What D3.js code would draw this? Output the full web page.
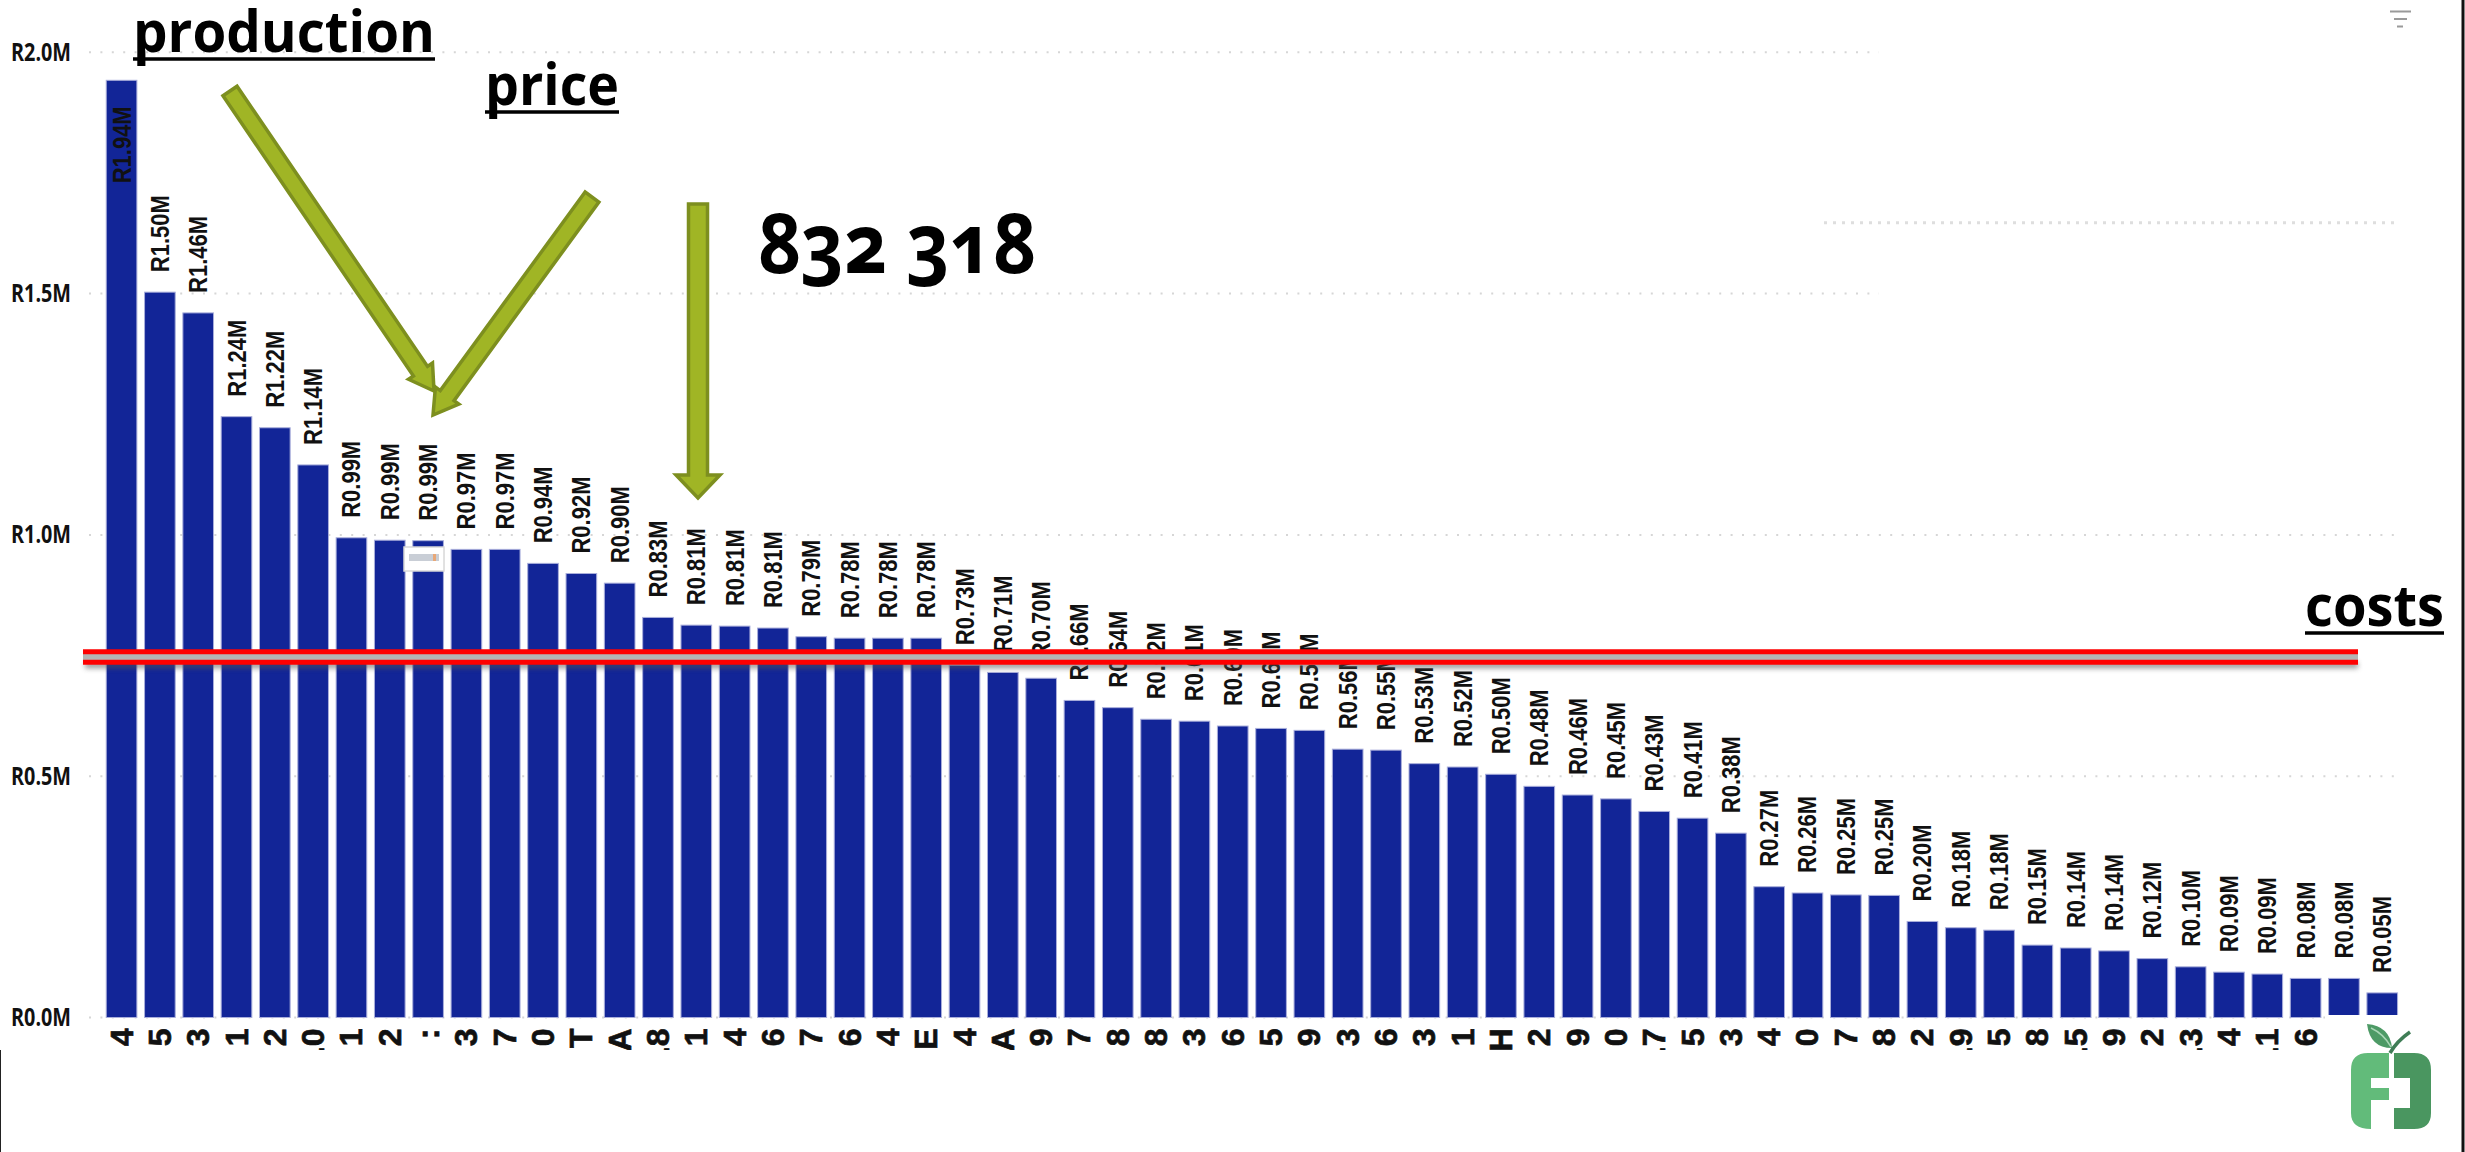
<!DOCTYPE html>
<html>
<head>
<meta charset="utf-8">
<script src="https://cdn.jsdelivr.net/npm/d3@7"></script>
<style>
	html, body { margin: 0; padding: 0; background: #fff; overflow: hidden; }
	svg { display: block; }
</style>
</head>
<body>
<div id="chart"></div>
<script>

// values in millions of rand
var barValues = [1.942, 1.503, 1.460, 1.245, 1.222, 1.145, 0.994, 0.989, 0.988, 0.970, 0.970, 0.941, 0.920, 0.900,
	0.829, 0.813, 0.811, 0.807, 0.789, 0.786, 0.786, 0.786, 0.730, 0.715, 0.703, 0.657, 0.642, 0.618, 0.614, 0.604,
	0.599, 0.595, 0.556, 0.554, 0.526, 0.519, 0.504, 0.479, 0.461, 0.453, 0.427, 0.413, 0.382, 0.271, 0.258, 0.254,
	0.253, 0.199, 0.186, 0.181, 0.150, 0.144, 0.138, 0.122, 0.105, 0.094, 0.090, 0.081, 0.081, 0.051];

// what the data labels say (not always the rounding of the bar top)
var barLabels = ["R1.94M", "R1.50M", "R1.46M", "R1.24M", "R1.22M", "R1.14M", "R0.99M", "R0.99M", "R0.99M", "R0.97M",
	"R0.97M", "R0.94M", "R0.92M", "R0.90M", "R0.83M", "R0.81M", "R0.81M", "R0.81M", "R0.79M", "R0.78M", "R0.78M",
	"R0.78M", "R0.73M", "R0.71M", "R0.70M", "R0.66M", "R0.64M", "R0.62M", "R0.61M", "R0.60M", "R0.60M", "R0.59M",
	"R0.56M", "R0.55M", "R0.53M", "R0.52M", "R0.50M", "R0.48M", "R0.46M", "R0.45M", "R0.43M", "R0.41M", "R0.38M",
	"R0.27M", "R0.26M", "R0.25M", "R0.25M", "R0.20M", "R0.18M", "R0.18M", "R0.15M", "R0.14M", "R0.14M", "R0.12M",
	"R0.10M", "R0.09M", "R0.09M", "R0.08M", "R0.08M", "R0.05M"];

// the category names are cropped in the picture, only their last characters show
var categoryEnds = ["4", "5", "3", "1", "2", ".0", "1", "2", ":", "3", "7", "0", "T", "A", ".8", "1", "4", "6", "7",
	"6", "4", "E", "4", "A", "9", "7", "8", "8", "3", "6", "5", "9", "3", "6", "3", "1", "H", "2", "9", "0", ".7",
	"5", "3", "4", "0", "7", "8", "2", ".9", "5", "8", ".5", "9", "2", ".3", "4", ".1", "6", "", ""];

var yTicks = [0, 0.5, 1, 1.5, 2];
var yTickLabels = ["R0.0M", "R0.5M", "R1.0M", "R1.5M", "R2.0M"];
var costLines = [0.758, 0.736];

var width = 2465, height = 1152;

var svg = d3.select("#chart").append("svg")
	.attr("width", width)
	.attr("height", height);

var defs = svg.append("defs");

defs.append("filter")
	.attr("id", "line-shadow")
	.attr("x", "-1%").attr("width", "102%")
	.attr("y", "-200%").attr("height", "500%")
	.append("feGaussianBlur")
	.attr("stdDeviation", 2.5);

defs.append("clipPath")
	.attr("id", "tick-clip")
	.append("rect")
	.attr("x", 0).attr("y", 1018)
	.attr("width", width).attr("height", 32);

var x = d3.scaleBand()
	.domain(d3.range(barValues.length))
	.range([102.4, 2401.4])
	.paddingInner(0.2)
	.paddingOuter(0.1);

var y = d3.scaleLinear()
	.domain([0, 2])
	.range([1017.5, 52.3]);

// gridlines, dotted and cut short like the screenshot
var grid = svg.append("g").attr("class", "grid");

grid.selectAll("line")
	.data(yTicks)
	.enter()
	.append("line")
	.attr("x1", 89)
	.attr("x2", function(d){ return d >= 1.5 ? 1879 : 2402; })
	.attr("y1", function(d){ return y(d); })
	.attr("y2", function(d){ return y(d); })
	.attr("stroke", "#d6d6d6")
	.attr("stroke-width", 2)
	.attr("stroke-dasharray", "2 9.4");

// stray piece of grid from the pasted image on the right
grid.append("line")
	.attr("x1", 1824).attr("x2", 2400)
	.attr("y1", 222.7).attr("y2", 222.7)
	.attr("stroke", "#dedede")
	.attr("stroke-width", 3)
	.attr("stroke-dasharray", "3 6");

// y axis labels
var yAxis = d3.axisLeft(y)
	.tickValues(yTicks)
	.tickSize(0)
	.tickFormat(function(d, i){ return yTickLabels[i]; });

var yAxisG = svg.append("g")
	.attr("transform", "translate(71,0)")
	.call(yAxis);

yAxisG.select(".domain").remove();

yAxisG.selectAll("text")
	.attr("x", 0)
	.attr("textLength", 60)
	.attr("lengthAdjust", "spacingAndGlyphs")
	.attr("font-family", "Open Sans")
	.attr("font-weight", 700)
	.attr("font-size", 25)
	.attr("fill", "#111");

// bars
svg.append("g").attr("class", "bars")
	.selectAll("rect")
	.data(barValues)
	.enter()
	.append("rect")
	.attr("x", function(d, i){ return x(i); })
	.attr("width", x.bandwidth())
	.attr("y", function(d){ return y(d); })
	.attr("height", function(d){ return y(0) - y(d); })
	.attr("fill", "#122597")
	.attr("stroke", "#a9aedb")
	.attr("stroke-width", 1);

// data labels, the tallest one sits inside its bar
svg.append("g").attr("class", "bar-labels")
	.selectAll("text")
	.data(barValues)
	.enter()
	.append("text")
	.text(function(d, i){ return barLabels[i]; })
	.attr("transform", function(d, i){
		var lx = x(i) + x.bandwidth() / 2 + 9;
		var ly = i == 0 ? y(d) + 103 : y(d) - 20;
		return "translate(" + lx + "," + ly + ") rotate(-90) scale(1,1.2)";
	})
	.attr("font-family", "Liberation Sans")
	.attr("font-weight", 700)
	.attr("font-size", 22)
	.attr("fill", "#111");

// x axis, cropped to a single row of glyphs
var xAxis = d3.axisBottom(x)
	.tickSize(0)
	.tickFormat(function(d){ return categoryEnds[d]; });

var xAxisG = svg.append("g")
	.attr("clip-path", "url(#tick-clip)")
	.append("g")
	.attr("transform", "translate(0," + y(0) + ")")
	.call(xAxis);

xAxisG.select(".domain").remove();

xAxisG.selectAll("text")
	.attr("transform", "translate(11,11) rotate(-90)")
	.attr("x", 0)
	.attr("y", 0)
	.attr("dy", 0)
	.attr("text-anchor", "end")
	.attr("font-family", "Liberation Sans")
	.attr("font-weight", 700)
	.attr("font-size", 32)
	.attr("fill", "#111")
	.attr("stroke", "#111")
	.attr("stroke-width", 0.7);

// small popup that hides the ninth bar
var popup = svg.append("g").attr("class", "popup");
popup.append("rect")
	.attr("x", 404).attr("y", 547).attr("width", 40).attr("height", 24)
	.attr("fill", "#fff").attr("stroke", "#d8d8d8").attr("stroke-width", 1.5);
popup.append("rect")
	.attr("x", 409).attr("y", 554).attr("width", 30).attr("height", 7)
	.attr("fill", "#c9ced6");
popup.append("rect")
	.attr("x", 433).attr("y", 554).attr("width", 3).attr("height", 7)
	.attr("fill", "#e8a878");

// cost lines with their grey band and shadow
var costTop = y(costLines[0]), costBottom = y(costLines[1]);
var costs = svg.append("g").attr("class", "cost-lines");

costs.append("rect")
	.attr("x", 85).attr("width", 2273)
	.attr("y", costBottom).attr("height", 6)
	.attr("fill", "#555")
	.attr("opacity", 0.6)
	.attr("filter", "url(#line-shadow)");

costs.append("rect")
	.attr("x", 83).attr("width", 2275)
	.attr("y", costTop).attr("height", costBottom - costTop)
	.attr("fill", "#b4b4b4");

costs.selectAll("line")
	.data(costLines)
	.enter()
	.append("line")
	.attr("x1", 83).attr("x2", 2358)
	.attr("y1", function(d){ return y(d); })
	.attr("y2", function(d){ return y(d); })
	.attr("stroke", "#fe0000")
	.attr("stroke-width", 5);

// green arrows
function arrowPath(x0, y0, x1, y1, shaft, head, headLen){
	var a = Math.atan2(y1 - y0, x1 - x0);
	var ux = Math.cos(a), uy = Math.sin(a);
	var nx = -uy, ny = ux;
	var bx = x1 - ux * headLen, by = y1 - uy * headLen;
	var p = d3.path();
	p.moveTo(x0 + nx * shaft / 2, y0 + ny * shaft / 2);
	p.lineTo(bx + nx * shaft / 2, by + ny * shaft / 2);
	p.lineTo(bx + nx * head / 2, by + ny * head / 2);
	p.lineTo(x1, y1);
	p.lineTo(bx - nx * head / 2, by - ny * head / 2);
	p.lineTo(bx - nx * shaft / 2, by - ny * shaft / 2);
	p.lineTo(x0 - nx * shaft / 2, y0 - ny * shaft / 2);
	p.closePath();
	return p.toString();
}

var arrows = [
	[230, 91, 434, 391, 17, 29, 24],
	[592, 197, 433, 415, 17, 29, 24],
	[698, 204, 698, 498, 19, 44, 23]
];

svg.append("g").attr("class", "arrows")
	.selectAll("path")
	.data(arrows)
	.enter()
	.append("path")
	.attr("d", function(d){ return arrowPath.apply(null, d); })
	.attr("fill", "#a0b525")
	.attr("stroke", "#7d8f1f")
	.attr("stroke-width", 3.5);

// hand written notes on top of the chart
var notes = [
	{ text: "production", x: 133, y: 52, size: 57, line: 59, x2: 435 },
	{ text: "price", x: 485, y: 105, size: 57, line: 112, x2: 619 },
	{ text: "costs", x: 2305, y: 626, size: 57, line: 633, x2: 2444 }
];

var noteG = svg.append("g").attr("class", "notes");

noteG.selectAll("text")
	.data(notes)
	.enter()
	.append("text")
	.text(function(d){ return d.text; })
	.attr("x", function(d){ return d.x; })
	.attr("y", function(d){ return d.y; })
	.attr("font-family", "Open Sans")
	.attr("font-weight", 700)
	.attr("font-size", function(d){ return d.size; })
	.attr("textLength", function(d){ return d.x2 - d.x; })
	.attr("lengthAdjust", "spacingAndGlyphs")
	.attr("fill", "#000");

noteG.selectAll("line")
	.data(notes)
	.enter()
	.append("line")
	.attr("x1", function(d){ return d.x; })
	.attr("x2", function(d){ return d.x2; })
	.attr("y1", function(d){ return d.line; })
	.attr("y2", function(d){ return d.line; })
	.attr("stroke", "#000")
	.attr("stroke-width", 3.5);

noteG.append("text")
	.text("832 318")
	.attr("x", 758)
	.attr("y", 273)
	.attr("font-family", "Open Sans")
	.attr("font-weight", 700)
	.attr("font-size", 82)
	.attr("textLength", 278)
	.attr("lengthAdjust", "spacingAndGlyphs")
	.style("font-feature-settings", "'onum'")
	.attr("fill", "#000");

// filter icon, top right
svg.append("g").attr("class", "filter-icon")
	.selectAll("rect")
	.data([[2390, 21], [2394, 13], [2397, 6]])
	.enter()
	.append("rect")
	.attr("x", function(d){ return d[0]; })
	.attr("y", function(d, i){ return 10.5 + i * 7.5; })
	.attr("width", function(d){ return d[1]; })
	.attr("height", 2)
	.attr("fill", "#9a9a9a");

// logo with its white backing, which also cuts the last two bars short
var logo = svg.append("g").attr("class", "logo");

logo.append("rect")
	.attr("x", 2325).attr("y", 1015)
	.attr("width", 135).attr("height", 137)
	.attr("fill", "#fff");

// the F
logo.append("path")
	.attr("d", "M2389,1053 H2368 Q2351,1053 2351,1070 V1113 Q2351,1129 2371,1129 V1100 H2389 V1088 H2371 V1078 H2389 Z")
	.attr("fill", "#62bb7a");

// the J
logo.append("path")
	.attr("d", "M2394,1053 H2414 Q2431,1053 2431,1070 V1113 Q2431,1129 2414,1129 H2394 V1108 H2410 V1078 H2394 Z")
	.attr("fill", "#4a9660");

logo.append("path")
	.attr("d", "M2367,1024 Q2390,1026 2392,1048 Q2370,1048 2367,1024 Z")
	.attr("fill", "#4d9a66");

logo.append("path")
	.attr("d", "M2371,1028 Q2384,1034 2391,1047")
	.attr("fill", "none")
	.attr("stroke", "#a9d6b6")
	.attr("stroke-width", 1.5);

logo.append("path")
	.attr("d", "M2390,1053 Q2397,1041 2410,1032")
	.attr("fill", "none")
	.attr("stroke", "#3f7d56")
	.attr("stroke-width", 3.5);

// screenshot edges
var edges = svg.append("g").attr("class", "edges");

edges.append("line")
	.attr("x1", 0.5).attr("x2", 0.5)
	.attr("y1", 1050).attr("y2", 1152)
	.attr("stroke", "#222");

edges.append("line")
	.attr("x1", 2463).attr("x2", 2463)
	.attr("y1", 0).attr("y2", 1152)
	.attr("stroke", "#111")
	.attr("stroke-width", 3);

</script>
</body>
</html>
